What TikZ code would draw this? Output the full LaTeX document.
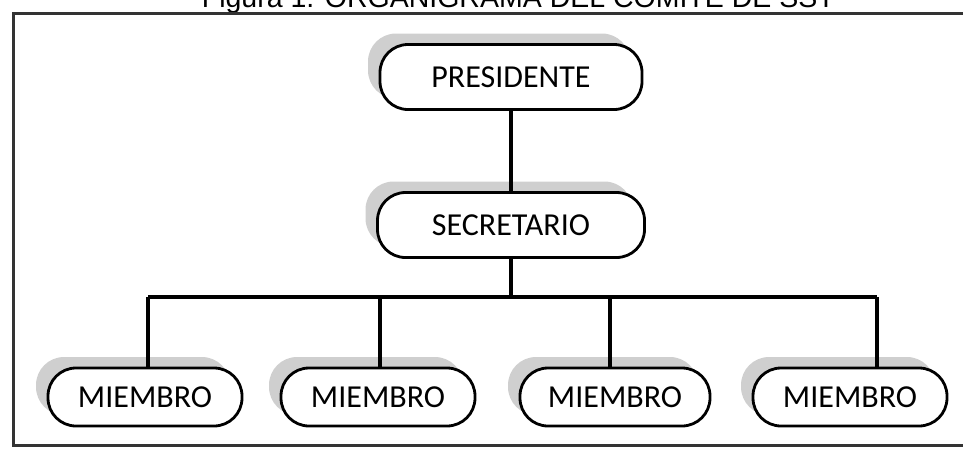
\documentclass[tikz,border=0pt]{standalone}
\usepackage{fontspec}
\setmainfont{Carlito}
\newfontfamily\titlefont{Liberation Sans}
\usetikzlibrary{shadows}
\usetikzlibrary{positioning}

\begin{document}
\begin{tikzpicture}[x=1pt, y=-1pt,
  cargo/.style={draw, line width=2.8pt, rounded corners=28pt, fill=white,
                minimum width=262pt, minimum height=65pt, inner sep=0pt,
                font=\fontsize{32}{36}\selectfont,
                drop shadow={shadow xshift=-12pt, shadow yshift=11pt,
                             fill=gray!38, opacity=1}},
  miembro/.style={cargo, minimum width=194pt, minimum height=58pt},
  linea/.style={line width=3.2pt}]

  % title and frame, cut by the page
  \begin{scope}
    \clip (0,0) rectangle (963,456);
    \node (titulo) at (835,7) [anchor=base east, inner sep=0pt,
          font=\titlefont\fontsize{28.5}{30}\selectfont]
          {Figura 1. ORGANIGRAMA DEL COMITE DE SST};
    \draw[line width=3pt, black!80] (13,13) rectangle (985,445);
  \end{scope}

  \node (pres) at (511,77) [cargo] {PRESIDENTE};
  \node (secr) at (511,225) [cargo, minimum width=267pt] {SECRETARIO};
  \node (m1) at (145,397) [miembro] {MIEMBRO};
  \node (m2) at (378,397) [miembro] {MIEMBRO};
  \node (m3) at (615,397) [miembro, minimum width=190pt] {MIEMBRO};
  \node (m4) at (850,397) [miembro] {MIEMBRO};

  \coordinate (bus) at (511,297);
  \coordinate (b1) at (148,297);
  \coordinate (b2) at (380,297);
  \coordinate (b3) at (610,297);
  \coordinate (b4) at (877,297);

  \draw[linea] (pres) -- (secr);
  \draw[linea] (secr) -- (bus);
  \draw[linea] (b1) -- (b4);
  \draw[linea] (b1) -- (b1 |- m1.north);
  \draw[linea] (b2) -- (b2 |- m2.north);
  \draw[linea] (b3) -- (b3 |- m3.north);
  \draw[linea] (b4) -- (b4 |- m4.north);

  \pgfresetboundingbox
  \useasboundingbox (0,0) rectangle (963,456);
\end{tikzpicture}
\end{document}
